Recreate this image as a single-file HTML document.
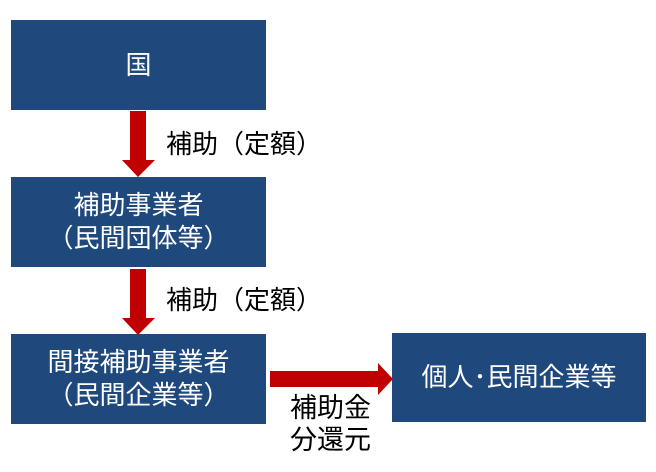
<!DOCTYPE html>
<html><head><meta charset="utf-8"><style>
body{margin:0;width:656px;height:472px;background:#fff;position:relative;overflow:hidden;font-family:"Liberation Sans","Noto Sans CJK JP",sans-serif}
.b{position:absolute;background:#1f497d;color:#fff;display:flex;align-items:center;justify-content:center;text-align:center;font-size:26px;line-height:33px}
.t{position:absolute;color:#000;font-size:26px;line-height:32px;white-space:nowrap}
svg{position:absolute;left:0;top:0}
</style></head><body>
<div class="b" style="left:11px;top:20px;width:255px;height:90px">国</div>
<div class="b" style="left:11px;top:177px;width:255px;height:90px">補助事業者<br>（民間団体等）</div>
<div class="b" style="left:11px;top:334px;width:255px;height:90px">間接補助事業者<br>（民間企業等）</div>
<div class="b" style="left:392px;top:333px;width:254px;height:89px">個人･民間企業等</div>
<svg width="656" height="472">
<polygon points="130,111 146,111 146,160 155,160 138,177 122,160 130,160" fill="#c00000"/>
<polygon points="130,269 146,269 146,318 155,318 138,335 122,318 130,318" fill="#c00000"/>
<polygon points="270,371 378,371 378,363 393,379 378,395 378,387 270,387" fill="#c00000"/>
</svg>
<div class="t" style="left:166px;top:128px">補助（定額）</div>
<div class="t" style="left:166px;top:284px">補助（定額）</div>
<div class="t" style="left:290px;top:392px;font-size:27px;line-height:32px">補助金<br>分還元</div>
</body></html>
